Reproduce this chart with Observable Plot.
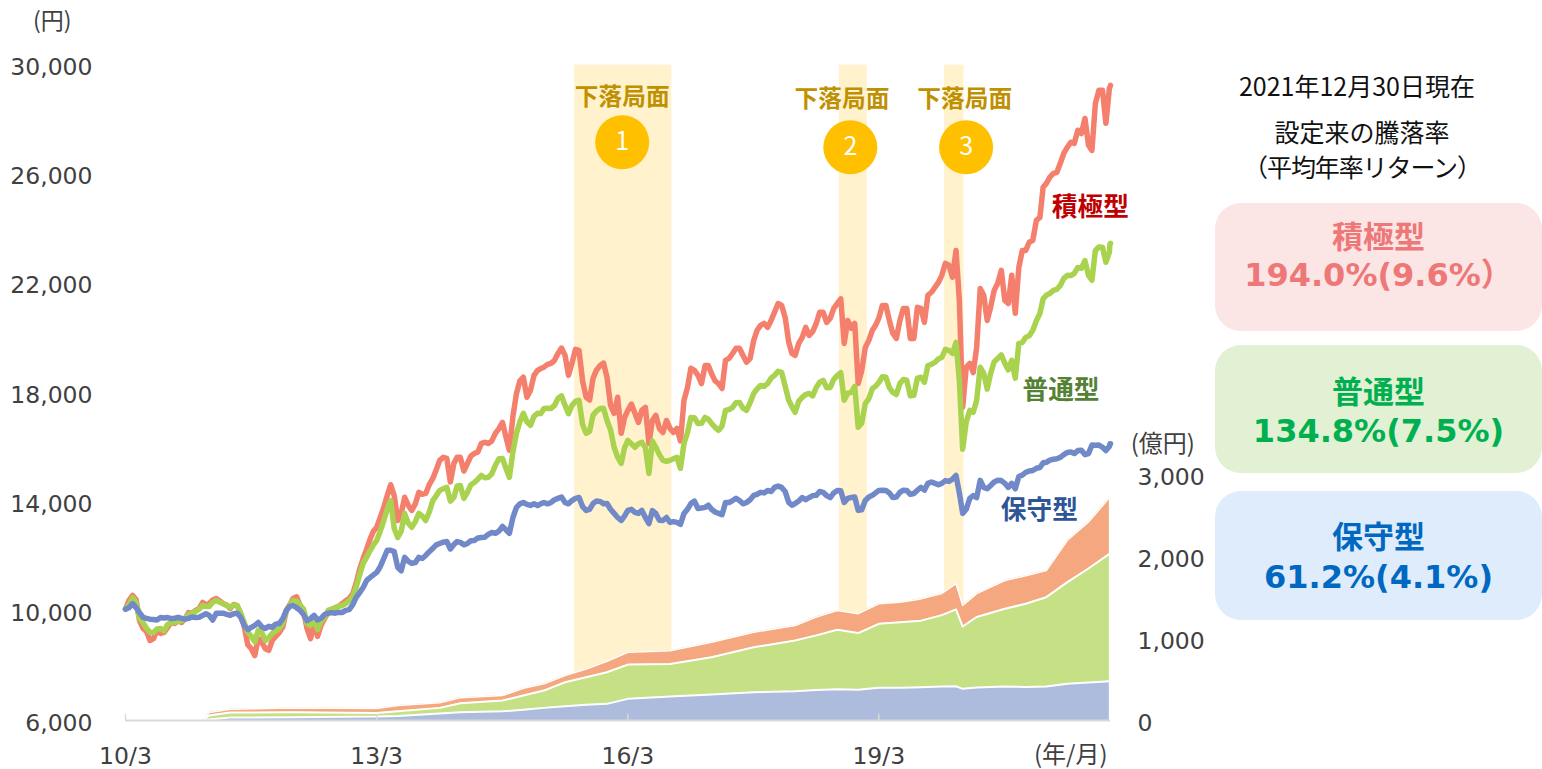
<!DOCTYPE html>
<html lang="ja">
<head>
<meta charset="utf-8">
<script src="https://cdn.jsdelivr.net/npm/d3@7"></script>
<script src="https://cdn.jsdelivr.net/npm/@observablehq/plot@0.6"></script>
<style>
html,body{margin:0;padding:0;background:#fff;}
#stage{position:relative;width:1542px;height:769px;overflow:hidden;font-family:"Noto Sans CJK JP",sans-serif;}
#stage svg{position:absolute;left:0;top:0;}
.note{position:absolute;color:#111;font-size:25px;line-height:1;white-space:nowrap;transform:translate(-50%,-50%);}
.box{position:absolute;left:1215px;width:327px;border-radius:26px;text-align:center;font-weight:700;}
.box div{position:absolute;left:0;width:327px;line-height:1.1;white-space:nowrap;transform:translateY(-50%);}
.box .t{font-size:31px;font-family:"Noto Sans CJK JP";}
.box .v{font-size:32px;font-family:"DejaVu Sans","Noto Sans CJK JP";}
</style>
</head>
<body>
<div id="stage"></div>
<script>
// ---- Values ----
const startDate = new Date(Date.UTC(2010, 2, 25));
const endDate = new Date(Date.UTC(2021, 11, 30));

// NAV, yen: one reading at each month, then the final date
const aggressiveNav = [
10150,10650,9730,9330,9070,9260,9480,9620,9660,10020,
10100,10390,10350,10540,10350,10170,10280,9510,8700,9070,
8700,9000,9290,10100,10540,10280,9440,9620,9550,10020,
10200,10350,10540,11090,12000,12730,13140,13870,14700,13390,
14240,13760,14420,14380,14930,15590,15660,15480,15700,15480,
15840,16210,16210,16580,16980,15960,18040,18630,18150,18880,
19000,19140,19500,19430,19140,19610,17900,18590,19060,18630,
17310,16580,17420,17310,17420,16210,17240,16610,16760,16760,
17790,18960,18700,19060,18770,18400,19250,19500,19690,19180,
19980,20530,20460,21010,21260,19910,19430,20090,20160,20600,
21010,20790,21330,19870,20420,18400,19720,20350,20790,21260,
20240,20710,21150,20050,21150,21630,21920,22360,22730,23270,
17530,19140,19720,21630,21190,22070,21440,22360,22650,23270,
23640,24480,25720,26090,26460,27050,27190,27550,27120,28650,
29130,29200,29310];
const balancedNav = [
10150,10570,9810,9440,9290,9440,9590,9660,9730,9950,
10060,10280,10240,10460,10350,10200,10280,9660,9150,9370,
9000,9260,9440,10100,10460,10280,9620,9770,9700,10100,
10200,10280,10460,10940,11820,12300,12660,13390,14120,12770,
13650,13140,13650,13390,14120,14490,14600,14240,14670,14420,
14780,15040,14970,15410,15660,14970,16580,17310,16870,17310,
17490,17490,17860,17600,17600,17790,16580,17240,17490,17050,
16070,15480,16320,16070,16250,15110,16070,15590,15590,15700,
16210,17160,16940,17160,16940,16690,17420,17530,17710,17420,
18040,18330,18400,18700,18810,17790,17350,17900,18040,18260,
18520,18260,18700,17790,18080,16800,17670,18220,18440,18630,
18080,18400,18520,17970,18630,19060,19180,19360,19610,19910,
16000,17420,17790,18770,18770,19320,19140,19250,19870,20090,
20350,20970,21630,21810,21990,22360,22430,22620,22360,23270,
23390,23200,23530];
const conservativeNav = [
10150,10350,10020,9810,9770,9840,9840,9810,9810,9810,
9840,9920,9920,10000,10000,9920,10000,9550,9480,9660,
9440,9480,9620,10100,10280,10100,9730,9920,9810,10000,
10000,10020,10130,10570,10940,11310,11490,12000,12300,11670,
12040,11820,12040,12110,12370,12550,12620,12510,12590,12550,
12660,12770,12880,12920,13170,12920,13870,14050,13940,13940,
14050,14050,14200,14050,14120,14230,13760,14010,14090,14010,
13650,13390,13760,13690,13760,13280,13650,13390,13320,13320,
13650,14010,13830,13870,13800,13650,14050,14120,14120,14050,
14310,14420,14490,14600,14600,14050,14010,14230,14230,14310,
14420,14230,14490,14050,14230,13760,14120,14310,14490,14490,
14230,14420,14490,14380,14600,14750,14750,14750,14820,15040,
13650,14200,14230,14600,14670,14860,14750,14750,15000,15150,
15220,15330,15520,15630,15700,15880,15840,15960,15840,16140,
16070,16100,16200];

// NAV, yen: a second reading halfway through each month
const aggressiveMid = [
10470,10500,9440,9000,9370,9300,9660,9730,9800,10000,
10170,10300,10480,10450,10300,10320,9980,8850,8450,8950,
8640,9150,9500,10300,10600,10050,9070,9150,9800,10100,
10250,10450,10700,11600,12350,13000,13500,14300,14300,13650,
13950,14000,14350,14700,15250,15700,14800,15700,15200,15750,
15900,16250,16300,16750,16450,17200,18500,17900,18700,18950,
19100,19250,19700,18700,19650,18500,17800,18900,19150,17600,
17900,17150,17650,16980,17530,17050,16760,17050,16610,16300,
18250,18880,18400,19060,18500,18220,19320,19690,19430,19320,
20350,20600,20710,21330,20820,19500,19870,20460,20300,21010,
20640,21150,21500,20710,20600,18880,19980,20530,21260,20710,
20050,21150,20050,21190,20640,21740,22100,22800,22290,21440,
19000,18800,21880,20710,21810,22540,21330,20970,23270,23570,
24370,25580,25950,26130,26830,27230,27670,28100,26930,29130,27920,29240];
const balancedMid = [
10300,10400,9650,9300,9420,9350,9650,9700,9800,10000,
10150,10250,10400,10400,10280,10300,10000,9300,8950,9300,
9100,9350,9650,10300,10450,10150,9550,9400,9850,10150,
10250,10350,10600,11400,12050,12500,13000,13800,13100,13000,
13300,13350,13550,13700,14300,14550,14100,14650,14200,14700,
14900,14950,15100,15650,15300,15900,17000,17000,17200,17300,
17500,17600,17950,17300,17750,16900,16650,17400,17500,16700,
15700,16050,16200,16200,16050,16300,15800,15550,15650,15300,
16600,17150,16950,17100,16800,16850,17450,17700,17500,17700,
18200,18300,18600,18850,18300,17550,17750,18000,17950,18450,
18250,18550,18800,18050,18300,16950,17850,18300,18650,18250,
18000,18550,17950,18600,18450,19100,19300,19650,19500,18500,
17000,17350,19000,18200,19200,19450,18900,18600,19900,20150,
20700,21500,21700,21850,22250,22350,22650,22900,22180,23400,22840,23500];
const conservativeMid = [
10200,10200,9850,9780,9750,9820,9800,9850,9780,9860,
9850,9980,9750,10000,9960,9980,9850,9400,9550,9500,
9520,9600,9800,10250,10200,9950,9800,9750,9950,10020,
10030,10100,10300,10750,11200,11400,11700,12300,12250,11550,
11900,11850,12000,12250,12500,12600,12350,12620,12500,12650,
12750,12780,12950,13000,13050,13500,14000,13980,14000,14000,
14000,14150,14250,14000,14200,13900,13800,14100,14000,13800,
13500,13550,13800,13650,13500,13750,13400,13500,13350,13250,
13800,14100,13850,13950,13700,13600,14050,14200,14000,14150,
14350,14400,14450,14650,14450,13950,14100,14150,14300,14450,
14300,14400,14480,14200,14250,13780,14250,14400,14500,14400,
14250,14500,14350,14500,14500,14800,14700,14850,14900,14400,
13800,14300,14860,14550,14800,14850,14600,14550,15050,15200,
15300,15500,15600,15650,15800,15900,15950,15800,16150,16150,15950,16200];

// Net assets, 100 million yen: months after the start, and each fund's own assets
const assetMonths = [11,12,15,24,36,39,45,48,54,57,60,63,66,69,72,78,84,90,96,99,102,105,108,111,114,117,119,120,122,126,129,132,135,138,141];
const conservativeAssets = [0,12,37,40,49,57,85,101,113,131,155,174,192,204,265,293,317,345,357,374,382,375,399,399,406,415,418,387,403,415,411,415,448,464,479];
const balancedAssets = [0,50,61,61,45,56,70,110,131,174,211,293,336,385,418,398,455,549,619,665,725,692,781,800,813,871,938,760,860,948,1014,1090,1241,1391,1554];
const aggressiveAssets = [0,37,40,54,52,70,61,66,61,89,82,82,102,134,150,162,183,183,183,223,235,237,244,244,265,265,314,256,285,345,342,325,510,568,683];

const navTicks = [6000,10000,14000,18000,22000,26000,30000];
const assetTicks = [0,1000,2000,3000];
const dateTicks = [0,36,72,108];
const dateTickLabels = ["10/3","13/3","16/3","19/3"];
const fundNames = ["積極型","普通型","保守型"];
const totalReturns = ["194.0%(9.6%）","134.8%(7.5%)","61.2%(4.1%)"];
const downturnLabel = "下落局面";
const downturns = [
  {n:"1",from:[2015,7,6],to:[2016,9,3],capAt:71.2,capYen:28875,dotAt:71.2,dotYen:27230},
  {n:"2",from:[2018,9,4],to:[2019,1,3],capAt:102.7,capYen:28800,dotAt:103.9,dotYen:27045},
  {n:"3",from:[2020,0,6],to:[2020,2,31],capAt:120.3,capYen:28800,dotAt:120.5,dotYen:27045}
];

// ---- Build tables ----
const monthDate = i => d3.utcMonth.offset(startDate, i);
const tDate = t => new Date(+startDate + t*30.44*864e5);
const dates = d3.range(142).map(monthDate).concat([endDate]);
const navRows = (vals,mids) => vals.flatMap((v,i)=> i<mids.length
  ? [{date:dates[i],v},{date:new Date((+dates[i]+ +dates[i+1])/2),v:mids[i]}]
  : [{date:dates[i],v}]);

const assetFloor = 6070;             // yen position of the zero of the asset axis
const toYen = a => assetFloor + 3*a; // 1,000 (100m yen) spans 3,000 yen of the left axis

const assetRows = assetMonths.map((m,i)=>{
  const c=conservativeAssets[i], b=c+balancedAssets[i], a=b+aggressiveAssets[i];
  return {date:monthDate(m),c,b,a};
});
const FONT = '"DejaVu Sans","Noto Sans CJK JP",sans-serif';
const JP = '"Noto Sans CJK JP",sans-serif';
const at = (y,m,d)=>new Date(Date.UTC(y,m,d));
const textAt = (s,t,yen,fill,fontSize,fontWeight=400)=>Plot.text([s],{x:()=>tDate(t),y:()=>yen,text:d=>d,fill,fontSize,fontWeight,fontFamily:JP});

const chart = Plot.plot({
  width:1542, height:769,
  marginLeft:125, marginRight:432, marginTop:66, marginBottom:47,
  style:{fontFamily:FONT,background:"transparent",overflow:"visible"},
  x:{type:"utc",domain:[startDate,endDate],range:[125,1110]},
  y:{domain:[6000,30000],range:[722,66]},
  marks:[
    Plot.rectY(downturns,{x1:d=>at(...d.from),x2:d=>at(...d.to),y1:assetFloor,y2:30050,fill:"#fff2cc"}),
    Plot.areaY(assetRows,{x:"date",y1:d=>toYen(d.b),y2:d=>toYen(d.a),fill:"#f5a77f"}),
    Plot.areaY(assetRows,{x:"date",y1:d=>toYen(d.c),y2:d=>toYen(d.b),fill:"#c5e085"}),
    Plot.areaY(assetRows,{x:"date",y1:assetFloor,y2:d=>toYen(d.c),fill:"#adbbdc"}),
    Plot.line(assetRows,{x:"date",y:d=>toYen(d.a),stroke:"#fff",strokeWidth:1.5}),
    Plot.line(assetRows,{x:"date",y:d=>toYen(d.b),stroke:"#fff",strokeWidth:2}),
    Plot.line(assetRows,{x:"date",y:d=>toYen(d.c),stroke:"#fff",strokeWidth:2}),
    Plot.ruleY([assetFloor],{x1:startDate,x2:endDate,stroke:"#d9d9d9",strokeWidth:2}),
    Plot.ruleX(dateTicks.map(monthDate),{y1:assetFloor,y2:6300,stroke:"#d9d9d9",strokeWidth:1.5}),
    Plot.line(navRows(aggressiveNav,aggressiveMid),{x:"date",y:"v",stroke:"#f47f6c",strokeWidth:5.5,strokeLinejoin:"round"}),
    Plot.line(navRows(balancedNav,balancedMid),{x:"date",y:"v",stroke:"#a9d34f",strokeWidth:5.5,strokeLinejoin:"round"}),
    Plot.line(navRows(conservativeNav,conservativeMid),{x:"date",y:"v",stroke:"#7189c8",strokeWidth:5.5,strokeLinejoin:"round"}),
    Plot.axisY({anchor:"left",ticks:navTicks,tickSize:0,tickPadding:33,tickFormat:d3.format(","),fontSize:23.5,fill:"#404040",label:null,dy:0.5}),
    Plot.axisY({anchor:"right",ticks:assetTicks.map(toYen),tickSize:0,tickPadding:27,tickFormat:d=>d3.format(",")((d-assetFloor)/3),fontSize:23.5,fill:"#404040",label:null,dy:2.5}),
    Plot.axisX({ticks:dateTicks.map(monthDate),tickSize:0,tickPadding:24.5,tickFormat:d=>dateTickLabels[dateTicks.indexOf(d3.utcMonth.count(startDate,d))],fontSize:23.5,fill:"#404040",label:null}),
    // downturn captions and numbered badges
    Plot.text(downturns,{x:d=>tDate(d.capAt),y:"capYen",text:()=>downturnLabel,fill:"#bf9000",fontSize:23.7,fontWeight:700,fontFamily:JP}),
    Plot.dot(downturns,{x:d=>tDate(d.dotAt),y:"dotYen",r:27,fill:"#ffc000"}),
    Plot.text(downturns,{x:d=>tDate(d.dotAt),y:"dotYen",text:"n",fill:"#fff",fontSize:25,fontFamily:JP}),
    // series names
    textAt(fundNames[0],138.3,24850,"#c00000",25.7,700),
    textAt(fundNames[1],134.1,18150,"#548235",25.7,700),
    textAt(fundNames[2],131,13760,"#2f5597",25.7,700),
    // unit captions
    textAt("(円)",-10.5,31660,"#404040",23),
    textAt("(億円)",148.7,16175,"#404040",24),
    textAt("(年/月)",135.5,4790,"#404040",24)
  ]
});
const stage = document.getElementById("stage");
stage.appendChild(chart);

// ---- Side panel ----
const notes = [["2021年12月30日現在",1357,85,0],["設定来の騰落率",1362,131,0],["（平均年率リターン）",1362,166,-1.1]];
notes.forEach(([t,x,y,ls])=>{const e=document.createElement("div");e.className="note";e.textContent=t;e.style.left=x+"px";e.style.top=y+"px";e.style.letterSpacing=ls+"px";stage.appendChild(e);});
const boxes = [[203,128,"#fbe5e5","#ee7777",32,73],[345,128,"#e2f0d4","#00b050",45,87],[491,129,"#deecfb","#0068c0",44,87]];
boxes.forEach(([top,h,bg,fg,tY,vY],i)=>{
  const b=document.createElement("div");b.className="box";
  b.style.cssText=`top:${top}px;height:${h}px;background:${bg};color:${fg}`;
  const t=document.createElement("div");t.className="t";t.textContent=fundNames[i];t.style.top=tY+"px";
  const v=document.createElement("div");v.className="v";v.textContent=totalReturns[i];v.style.top=vY+"px";
  b.append(t,v);stage.appendChild(b);
});
</script>
</body>
</html>
